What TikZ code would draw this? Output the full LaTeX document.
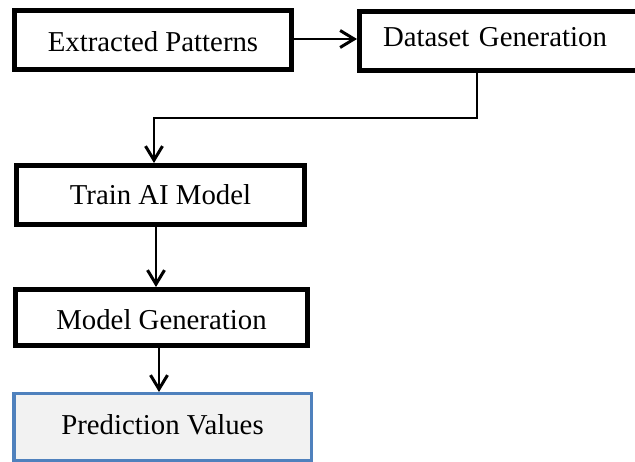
\documentclass[tikz,border=0pt]{standalone}
\usepackage{fontspec}
\setmainfont{Liberation Serif}
\usetikzlibrary{arrows.meta}
\definecolor{predblue}{HTML}{4F81BD}
\definecolor{predfill}{HTML}{F2F2F2}
\begin{document}
\begin{tikzpicture}[x=1pt,y=-1pt,
  stepbox/.style={draw=black, line width=5pt, inner sep=0pt, fill=white,
    font=\fontsize{28.8}{34}\selectfont, text depth=0pt},
  resultbox/.style={draw=predblue, line width=3.5pt, inner sep=0pt, fill=predfill,
    font=\fontsize{28.8}{34}\selectfont, text depth=0pt},
  flow/.style={draw=black, line width=1.4pt,
    -{Straight Barb[length=14pt,width=17pt,line width=3pt]}},
  flowthick/.style={flow, line width=1.8pt}]
\useasboundingbox (0,0) rectangle (635,462);
\clip (0,0) rectangle (635,462);

% process boxes
\node[stepbox, minimum width=277pt, minimum height=59pt, text height=24pt]
  (ext) at (153,40) {Extracted Patterns};
% this box runs on past the right edge of the page
\node[stepbox, minimum height=59pt, text height=12pt, inner xsep=23.5pt,
  text width=260pt, align=left]
  (ds) at (513,41) {Dataset Generation};
\node[stepbox, minimum width=288pt, minimum height=59pt, text height=20pt]
  (tr) at (160.5,195) {Train AI Model};
\node[stepbox, minimum width=292pt, minimum height=56pt, text height=25pt]
  (mg) at (161.5,317.5) {Model Generation};
\node[resultbox, minimum width=297.5pt, minimum height=66.5pt, text height=16pt]
  (pv) at (162.5,427) {Prediction Values};

% routing points of the connectors
\coordinate (dsdrop) at (477,118);
\coordinate (trdrop) at (154,118);
\coordinate (trout) at (156,0);
\coordinate (mgout) at (159,0);

% connectors
\draw[flow] (ext.east |- 0,39) -- (ds.west |- 0,39);
\draw[flow] (dsdrop |- ds.south) -- (dsdrop) -- (trdrop) -- (trdrop |- tr.north);
\draw[flowthick] (trout |- tr.south) -- (trout |- mg.north);
\draw[flowthick] (mgout |- mg.south) -- (mgout |- pv.north);
\end{tikzpicture}
\end{document}
